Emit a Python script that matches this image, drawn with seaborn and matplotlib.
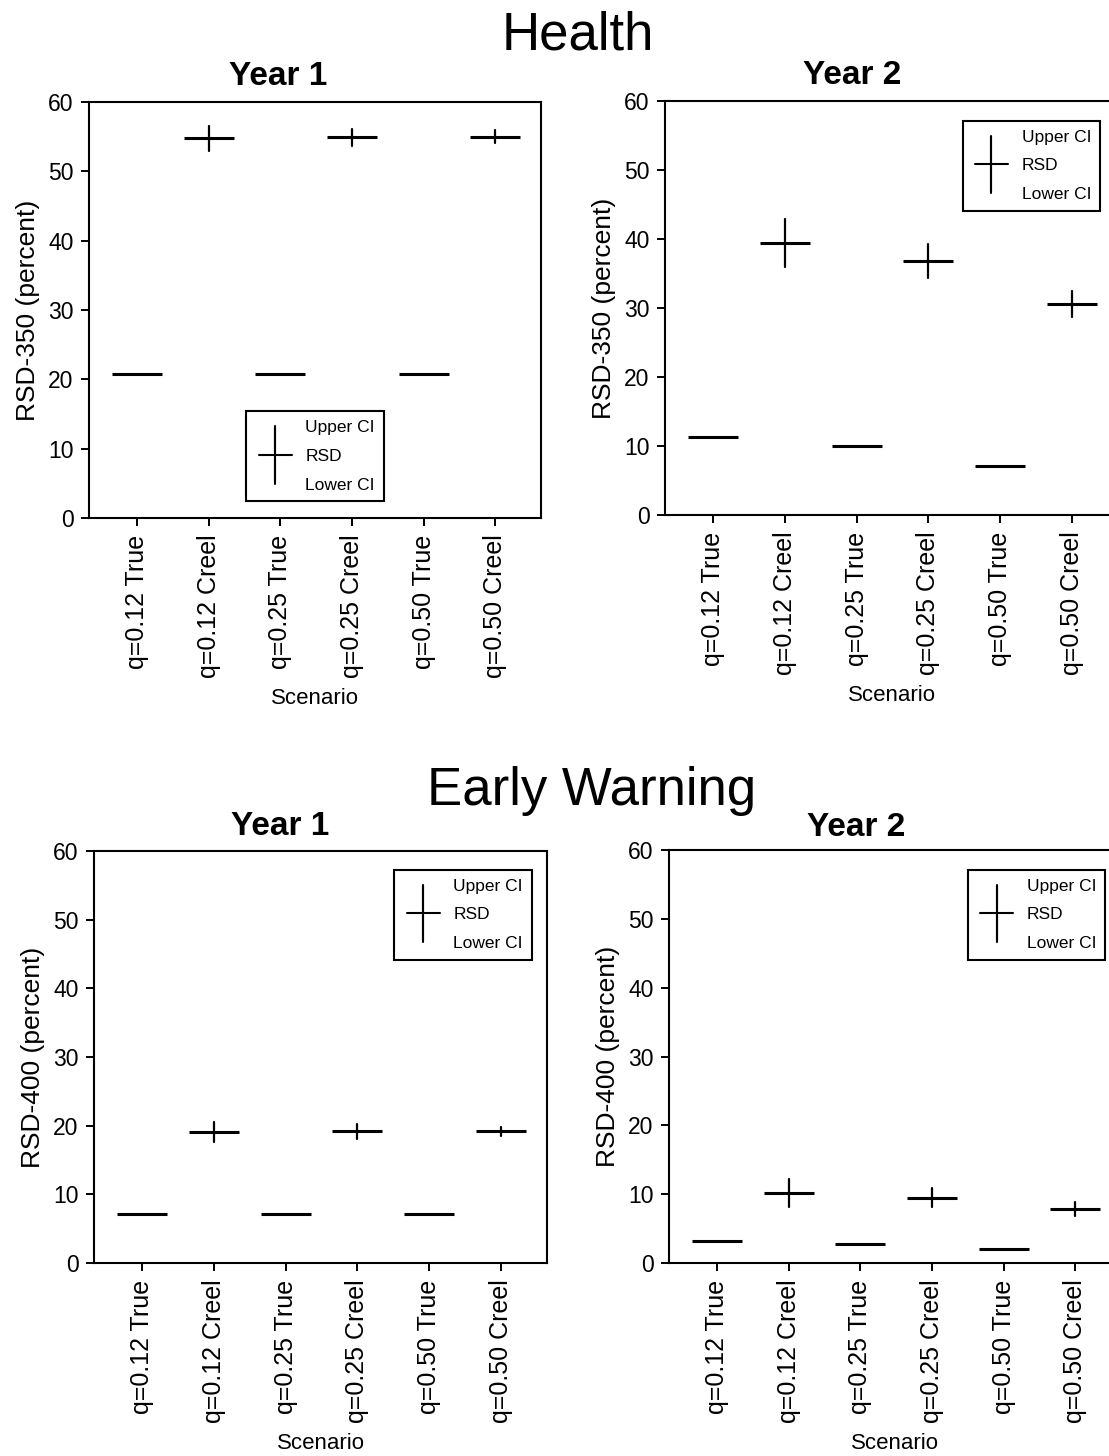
import numpy as np
import pandas as pd
import matplotlib
matplotlib.use("Agg")
import matplotlib.pyplot as plt
from matplotlib.lines import Line2D
from matplotlib.legend_handler import HandlerBase
import seaborn as sns

# ---- data -------------------------------------------------------------
scenarios = ["q=0.12 True", "q=0.12 Creel", "q=0.25 True",
             "q=0.25 Creel", "q=0.50 True", "q=0.50 Creel"]

health_y1_rsd = [20.8, 54.8, 20.8, 54.9, 20.8, 54.9]
health_y1_lower = [20.8, 53.0, 20.8, 53.6, 20.8, 54.1]
health_y1_upper = [20.8, 56.6, 20.8, 56.1, 20.8, 55.9]

health_y2_rsd = [11.3, 39.4, 10.0, 36.8, 7.1, 30.6]
health_y2_lower = [11.3, 36.0, 10.0, 34.4, 7.1, 28.7]
health_y2_upper = [11.3, 42.9, 10.0, 39.3, 7.1, 32.4]

early_y1_rsd = [7.2, 19.1, 7.2, 19.2, 7.2, 19.2]
early_y1_lower = [7.2, 17.6, 7.2, 18.0, 7.2, 18.5]
early_y1_upper = [7.2, 20.6, 7.2, 20.3, 7.2, 19.8]

early_y2_rsd = [3.2, 10.1, 2.8, 9.4, 2.0, 7.8]
early_y2_lower = [3.2, 8.2, 2.8, 8.1, 2.0, 6.9]
early_y2_upper = [3.2, 12.2, 2.8, 10.9, 2.0, 8.9]

y_ticks = [0, 10, 20, 30, 40, 50, 60]
legend_labels = ["Upper CI", "RSD", "Lower CI"]

# ---- style ------------------------------------------------------------
sns.set_theme(style="ticks")
plt.rcParams["font.family"] = ["Liberation Sans", "DejaVu Sans"]
plt.rcParams.update({
    "axes.edgecolor": "black",
    "axes.linewidth": 1.5,
    "xtick.major.width": 1.4,
    "ytick.major.width": 1.4,
    "xtick.major.size": 6,
    "ytick.major.size": 6,
    "xtick.color": "black",
    "ytick.color": "black",
    "text.color": "black",
    "axes.labelcolor": "black",
})

W, H = 1109, 1456
fig = plt.figure(figsize=(W / 100, H / 100), dpi=100)
fig.patch.set_facecolor("white")


def add_axes_px(left, right, top, bottom):
    return fig.add_axes([left / W, 1 - bottom / H, (right - left) / W, (bottom - top) / H])


class CrossPart(HandlerBase):
    """Draws one third of the CI cross used as legend key."""

    def __init__(self, part):
        super().__init__()
        self.part = part

    def create_artists(self, legend, orig_handle, xdescent, ydescent,
                       width, height, fontsize, trans):
        cx = -xdescent + width / 2
        cy = -ydescent + height / 2
        ext = fontsize * 1.2
        top = -ydescent + height + ext
        bot = -ydescent - ext
        if self.part == "top":
            y0, y1 = bot, cy
        elif self.part == "mid":
            y0, y1 = bot, top
        else:
            y0, y1 = cy, top
        arts = [Line2D([cx, cx], [y0, y1], color="black", lw=1.5, transform=trans)]
        if self.part == "mid":
            hw = fontsize * 0.95
            arts.append(Line2D([cx - hw, cx + hw], [cy, cy], color="black",
                               lw=1.5, transform=trans))
        return arts


def panel(ax, rsd, lower, upper, ylabel, legend_loc, legend_anchor):
    df = pd.DataFrame({
        "Scenario": np.repeat(scenarios, 3),
        "value": np.ravel(np.column_stack([lower, rsd, upper])),
    })
    sns.pointplot(data=df, x="Scenario", y="value", order=scenarios,
                  estimator="median", errorbar=("pi", 100),
                  color="black", marker="_", markersize=36,
                  markeredgewidth=2.2, linestyle="none",
                  err_kws={"linewidth": 1.6}, capsize=0, ax=ax)
    ax.set_ylim(0, 60)
    ax.set_xlim(-0.67, 5.64)
    ax.set_yticks(y_ticks)
    ax.set_yticklabels([str(t) for t in y_ticks], fontsize=16.5)
    ax.set_xticks(range(len(scenarios)))
    ax.set_xticklabels(scenarios, rotation=90, fontsize=18)
    ax.tick_params(axis="x", pad=6)
    ax.tick_params(axis="y", pad=5)
    ax.set_xlabel("Scenario", fontsize=16, labelpad=7)
    ax.set_ylabel(ylabel, fontsize=19, labelpad=6)
    for s in ax.spines.values():
        s.set_visible(True)
        s.set_color("black")
        s.set_linewidth(1.5)

    handles = [Line2D([], []), Line2D([], []), Line2D([], [])]
    hmap = {handles[0]: CrossPart("top"), handles[1]: CrossPart("mid"),
            handles[2]: CrossPart("bot")}
    leg = ax.legend(handles, legend_labels, handler_map=hmap,
                    loc=legend_loc, bbox_to_anchor=legend_anchor,
                    borderaxespad=0, frameon=True, fancybox=False,
                    framealpha=1, edgecolor="black", fontsize=12.5,
                    handlelength=2.3, handleheight=0.7, handletextpad=0.6,
                    labelspacing=0.78, borderpad=0.5)
    leg.get_frame().set_linewidth(1.5)


ax1 = add_axes_px(89, 541, 102, 518)
panel(ax1, health_y1_rsd, health_y1_lower, health_y1_upper,
      "RSD-350 (percent)", "lower center", (0.5, 0.04))

ax2 = add_axes_px(665, 1118, 101, 515)
panel(ax2, health_y2_rsd, health_y2_lower, health_y2_upper,
      "RSD-350 (percent)", "upper right", (0.96, 0.952))

ax3 = add_axes_px(94, 547, 851, 1263)
panel(ax3, early_y1_rsd, early_y1_lower, early_y1_upper,
      "RSD-400 (percent)", "upper right", (0.966, 0.954))

ax4 = add_axes_px(669, 1121, 850, 1263)
panel(ax4, early_y2_rsd, early_y2_lower, early_y2_upper,
      "RSD-400 (percent)", "upper right", (0.965, 0.952))

# ---- titles -----------------------------------------------------------
def ftext(x, y, s, **kw):
    fig.text(x / W, 1 - y / H, s, ha="center", va="baseline", **kw)

ftext(578, 50, "Health", fontsize=38)
ftext(592, 805, "Early Warning", fontsize=38)
ftext(278, 85, "Year 1", fontsize=24, fontweight="bold")
ftext(852, 84, "Year 2", fontsize=24, fontweight="bold")
ftext(280, 835, "Year 1", fontsize=24, fontweight="bold")
ftext(856, 836, "Year 2", fontsize=24, fontweight="bold")

fig.savefig("out.png", dpi=100, facecolor="white")
